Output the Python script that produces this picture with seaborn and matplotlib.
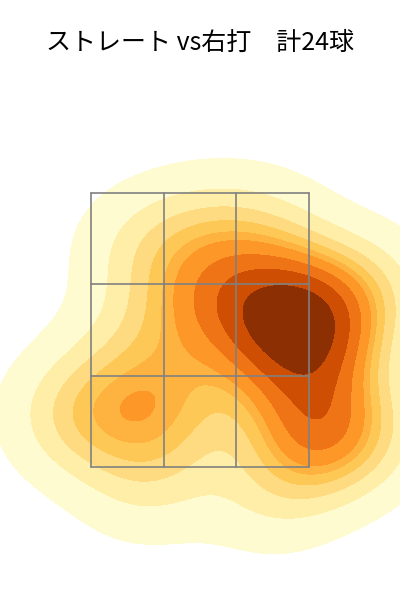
import numpy as np
import pandas as pd
import matplotlib
matplotlib.use("Agg")
import matplotlib.pyplot as plt
import seaborn as sns

# pitch locations (feet), catcher's view
plate_x = [0.53, 0.76, 0.94, 0.94, 0.69, 0.78, 0.47, 0.88, 0.93, 0.15, -0.08, 0.04,
           -0.46, 0.50, 1.28, 1.26, -0.82, -0.30, -0.99, -0.50, 0.57, -0.38, -0.19, 0.86]
plate_z = [2.72, 2.65, 2.68, 2.43, 2.39, 2.25, 2.54, 1.92, 1.70, 2.76, 2.72, 3.23,
           3.12, 3.19, 2.79, 1.69, 1.80, 1.80, 1.95, 2.33, 1.30, 1.37, 2.03, 1.77]

# strike zone grid
zone_x = [-0.83, -0.277, 0.277, 0.83]
zone_z = [1.5, 2.167, 2.833, 3.5]

title = "ストレート vs右打　計24球"

df = pd.DataFrame({"plate_x": plate_x, "plate_z": plate_z})

sns.set_style("white")
plt.rcParams['font.family'] = ['Noto Sans CJK JP', 'DejaVu Sans']

fig = plt.figure(figsize=(4, 6), dpi=100)
ax = fig.add_axes([0, 0, 1, 1])

sns.kdeplot(data=df, x="plate_x", y="plate_z", fill=True, cmap="YlOrBr",
            levels=10, thresh=0.05, ax=ax)

for zx in zone_x:
    ax.plot([zx, zx], [zone_z[0], zone_z[-1]], color="gray", lw=1.2)
for zz in zone_z:
    ax.plot([zone_x[0], zone_x[-1]], [zz, zz], color="gray", lw=1.2)

ax.set_xlim(-1.523, 1.523)
ax.set_ylim(0.529, 4.909)
ax.axis("off")

fig.text(0.5, 1 - 43 / 600, title, ha="center", va="center", fontsize=18, color="black")

plt.savefig("out.png", dpi=100)
